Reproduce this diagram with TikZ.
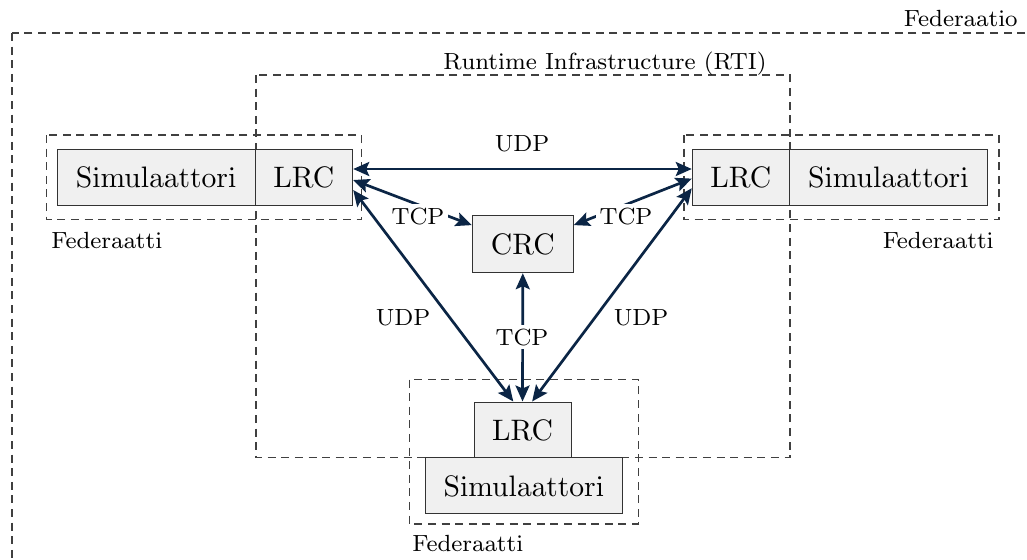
\documentclass[tikz,border=0pt]{standalone}
\usetikzlibrary{arrows.meta}

% Computer Modern faces: a text-size face for the boxes, a small-size face for labels
\font\boxfont=cmr10 at 14.8pt
\font\lblfont=cmr8 at 11.7pt

\definecolor{linkblue}{HTML}{0B2545}
\definecolor{boxfill}{HTML}{F0F0F0}

\tikzset{
  box/.style={draw=black!80, fill=boxfill, line width=0.5pt, inner sep=0pt,
              minimum height=28pt, font=\boxfont},
  grp/.style={draw=black!75, dash pattern=on 4pt off 2.8pt, line width=0.55pt},
  link/.style={draw=linkblue, line width=1.35pt,
               {Stealth[length=8pt,width=7pt,inset=1.5pt]}-{Stealth[length=8pt,width=7pt,inset=1.5pt]}},
  lbl/.style={font=\lblfont, inner sep=1pt},
  cut/.style={lbl, fill=white, inner sep=2pt}
}

\begin{document}
\begin{tikzpicture}[x=0.5pt, y=-0.5pt]
  \useasboundingbox (0,0) rectangle (1027,559);
  \clip (0,0) rectangle (1027,559);

  % grouping frames
  \draw[grp] (12,33) rectangle (1060,600);
  \draw[grp] (256,75) rectangle (790,457.7);
  \draw[grp] (46.7,135) rectangle (361.7,219.5);
  \draw[grp] (684,135) rectangle (999,219.5);
  \draw[grp] (409.3,379.5) rectangle (638.3,524);

  \node[lbl, anchor=base east] (federaatio) at (1020,26) {Federaatio};
  \node[lbl, anchor=base east] (rti) at (769,69) {Runtime Infrastructure (RTI)};
  \node[lbl, anchor=base west] (fedL) at (49,248) {Federaatti};
  \node[lbl, anchor=base east] (fedR) at (996,248) {Federaatti};
  \node[lbl, anchor=base west] (fedB) at (410,551) {Federaatti};

  % components
  \node[box, minimum width=98.8pt] (simL) at (156.2,177.4) {Simulaattori};
  \node[box, minimum width=48.8pt] (lrcL) at (303.9,177.4) {LRC};
  \node[box, minimum width=48.6pt] (lrcR) at (740.9,177.4) {LRC};
  \node[box, minimum width=98.9pt] (simR) at (888.4,177.4) {Simulaattori};
  \node[box, minimum width=50.5pt, minimum height=28.8pt] (crc) at (522.8,243.9) {CRC};
  \node[box, minimum width=48.5pt] (lrcB) at (522.5,430) {LRC};
  \node[box, minimum width=98.8pt] (simB) at (523.9,485.9) {Simulaattori};

  % connections
  \draw[link] ([yshift=4.2pt]lrcL.east) -- ([yshift=4.2pt]lrcR.west);
  \draw[link] ([yshift=-1.3pt]lrcL.east) -- ([yshift=9.4pt]crc.west);
  \draw[link] ([yshift=-0.6pt]lrcR.west) -- ([yshift=9.4pt]crc.east);
  \draw[link] ([yshift=-6.3pt]lrcL.east) -- ([xshift=-4.6pt]lrcB.north);
  \draw[link] ([yshift=-5.4pt]lrcR.west) -- ([xshift=4.8pt]lrcB.north);
  \draw[link] (crc.south) -- (lrcB.north);

  % connection labels
  \node[lbl] (udpTop) at (522,143) {UDP};
  \node[cut] (tcpL) at (418,216) {TCP};
  \node[cut] (tcpR) at (626,216) {TCP};
  \node[lbl] (udpL) at (403,317) {UDP};
  \node[lbl] (udpR) at (641,317) {UDP};
  \node[cut] (tcpM) at (522,337) {TCP};
\end{tikzpicture}
\end{document}
